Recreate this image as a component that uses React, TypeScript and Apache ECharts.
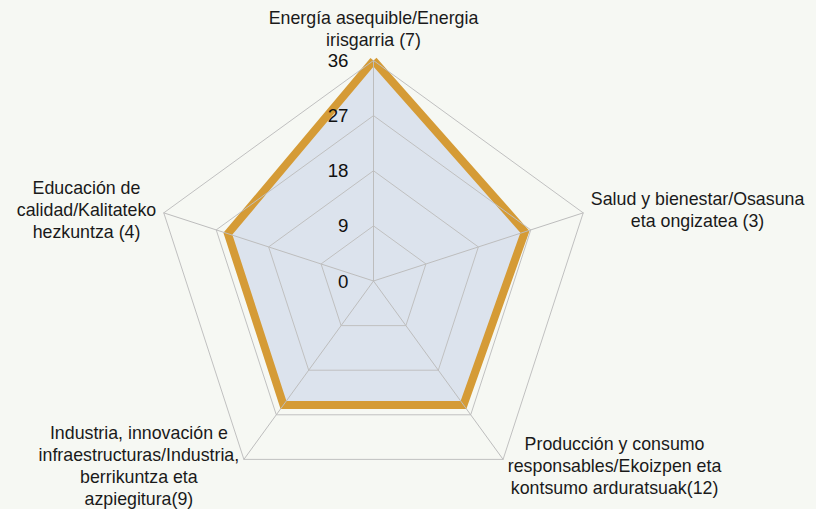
import React, { useEffect, useRef } from "react";
import * as echarts from "echarts";

const categories: string[] = [
  "Energía asequible/Energia\nirisgarria (7)",
  "Educación de\ncalidad/Kalitateko\nhezkuntza (4)",
  "Industria, innovación e\ninfraestructuras/Industria,\nberrikuntza eta\nazpiegitura(9)",
  "Producción y consumo\nresponsables/Ekoizpen eta\nkontsumo arduratsuak(12)",
  "Salud y bienestar/Osasuna\neta ongizatea (3)",
];
const values: number[] = [36, 25, 25, 25, 26];
const axisMax = 36;
const tickStep = 9;

const FONT = "'Liberation Sans', Arial, sans-serif";

export default function App() {
  const ref = useRef<HTMLDivElement>(null);
  useEffect(() => {
    document.body.style.margin = "0";
    document.body.style.background = "#f6f8f3";
    const chart = echarts.init(ref.current!, null, { renderer: "svg" });
    chart.setOption({
      animation: false,
      backgroundColor: "#f6f8f3",
      radar: {
        z: 3,
        center: [373.5, 281],
        radius: 220.5,
        startAngle: 90,
        shape: "polygon",
        splitNumber: axisMax / tickStep,
        nameGap: 8,
        axisName: {
          color: "#1a1a1a",
          fontFamily: FONT,
          fontSize: 17.8,
          lineHeight: 22,
          formatter: (name: string) =>
            name
              .split("\n")
              .map((l) => `{c|${l}}`)
              .join("\n"),
          rich: {
            c: {
              align: "center",
              color: "#1a1a1a",
              fontFamily: FONT,
              fontSize: 17.8,
              lineHeight: 22,
            },
          },
        },
        splitArea: { show: false },
        splitLine: { lineStyle: { color: "#c0c0c0", width: 1 } },
        axisLine: { show: true, lineStyle: { color: "#bdbdbd", width: 1 } },
        axisTick: { show: false },
        axisLabel: {
          show: true,
          margin: 25,
          color: "#111",
          fontFamily: FONT,
          fontSize: 18.7,
        },
        indicator: categories.map((name, i) => ({
          name,
          min: 0,
          max: axisMax,
          axisLabel: { show: i === 0 },
        })),
      },
      series: [
        {
          type: "radar",
          z: 1,
          symbol: "none",
          silent: true,
          lineStyle: { width: 0, opacity: 0 },
          areaStyle: { color: "#dce3ed", opacity: 1 },
          data: [{ value: values, name: "ODS" }],
        },
        {
          type: "radar",
          z: 2,
          symbol: "none",
          silent: true,
          lineStyle: { color: "#d59b36", width: 8, join: "miter" },
          data: [{ value: values, name: "ODS" }],
        },
      ],
    });
    return () => chart.dispose();
  }, []);
  return (
    <div
      ref={ref}
      style={{ position: "fixed", left: 0, top: 0, width: 816, height: 509 }}
    />
  );
}
